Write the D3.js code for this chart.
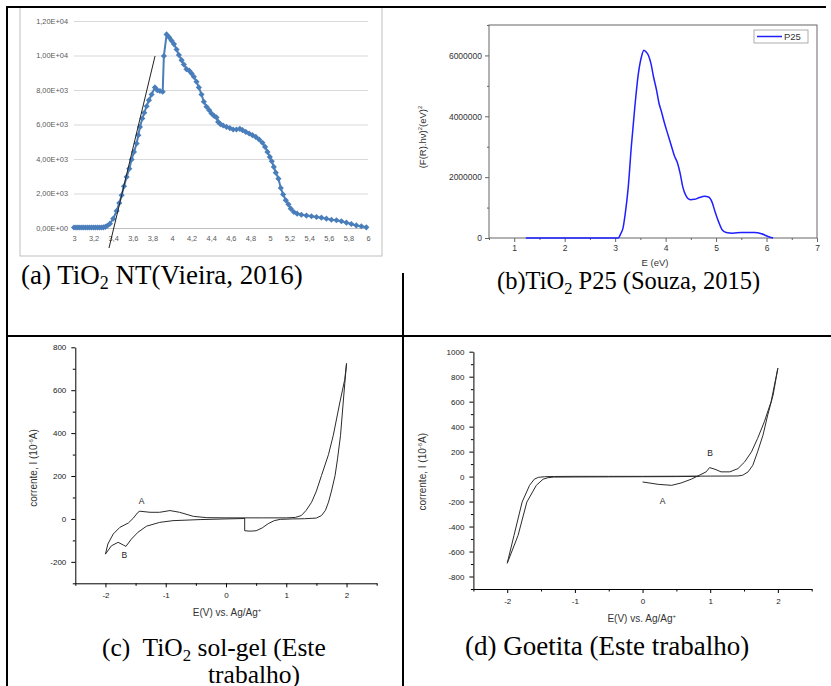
<!DOCTYPE html>
<html>
<head>
<meta charset="utf-8">
<script src="https://cdn.jsdelivr.net/npm/d3@7"></script>
<style>
  body { margin: 0; background: #fff; }
  svg { display: block; }
</style>
</head>
<body>
<div id="chart"></div>
<script>
// (a) TiO2 NT (Vieira, 2016) - excel style
const aE = [3.00,3.02,3.04,3.06,3.08,3.10,3.12,3.14,3.16,3.18,3.20,3.22,3.24,3.26,3.28,3.30,3.32,3.34,3.367,3.40,3.435,3.462,3.486,3.51,3.537,3.564,3.588,3.612,3.639,3.656,3.673,3.697,3.717,3.741,3.765,3.792,3.826,3.85,3.877,3.905,3.917,3.945,3.972,3.996,4.02,4.047,4.07,4.098,4.121,4.148,4.176,4.2,4.223,4.25,4.274,4.301,4.325,4.352,4.38,4.403,4.43,4.454,4.471,4.495,4.522,4.556,4.59,4.624,4.658,4.692,4.72,4.753,4.787,4.821,4.855,4.889,4.923,4.95,4.974,4.998,5.018,5.039,5.059,5.086,5.11,5.134,5.161,5.188,5.212,5.243,5.277,5.32,5.372,5.423,5.474,5.525,5.576,5.627,5.678,5.729,5.78,5.83,5.881,5.932,5.983];
const aF = [30,30,30,30,30,30,30,30,30,30,30,30,30,30,30,40,70,130,250,540,990,1450,1900,2420,2960,3440,3970,4410,4900,5380,5860,6350,6680,7060,7410,7740,8150,7990,7940,7900,9970,11220,11050,10860,10660,10350,10030,9730,9480,9210,9120,8960,8770,8480,8150,7740,7320,7030,6830,6640,6500,6410,6150,6020,5940,5860,5790,5710,5710,5750,5670,5570,5480,5380,5280,5130,4940,4700,4410,4120,3870,3540,3210,2860,2320,1940,1610,1370,1120,930,830,770,720,680,640,600,540,480,450,390,310,230,150,100,40];
const aTanE = [3.357, 3.827];
const aTanF = [-1160, 9970];
const aXTicks = [3,3.2,3.4,3.6,3.8,4,4.2,4.4,4.6,4.8,5,5.2,5.4,5.6,5.8,6];
const aYTicks = [0,2000,4000,6000,8000,10000,12000];
const aYLabels = ["0,00E+00","2,00E+03","4,00E+03","6,00E+03","8,00E+03","1,00E+04","1,20E+04"];

// (b) TiO2 P25 (Souza, 2015)
const bE = [1.23,3.06,3.11,3.16,3.20,3.26,3.32,3.39,3.46,3.52,3.57,3.61,3.66,3.71,3.76,3.82,3.87,3.91,3.97,4.04,4.11,4.17,4.24,4.29,4.34,4.40,4.49,4.57,4.67,4.77,4.85,4.92,4.98,5.05,5.12,5.20,5.33,5.50,5.76,5.90,6.03,6.13];
const bF = [0,0,0.14e6,0.36e6,0.8e6,1.68e6,3.0e6,4.31e6,5.4e6,5.95e6,6.17e6,6.12e6,6.0e6,5.73e6,5.3e6,4.86e6,4.42e6,4.2e6,3.82e6,3.43e6,3.05e6,2.72e6,2.44e6,2.11e6,1.68e6,1.4e6,1.26e6,1.27e6,1.33e6,1.37e6,1.35e6,1.18e6,0.86e6,0.53e6,0.27e6,0.18e6,0.16e6,0.18e6,0.18e6,0.14e6,0.05e6,0];
const bXTicks = [1,2,3,4,5,6,7];
const bXMinor = [0.5,1.5,2.5,3.5,4.5,5.5,6.5];
const bYTicks = [0,2000000,4000000,6000000];
const bYMinor = [1000000,3000000,5000000,7000000];

// (c) TiO2 sol-gel voltammogram
const cE = [0.31,0.31,0.4,0.5,0.6,0.7,0.8,0.9,1.1,1.3,1.5,1.585,1.65,1.70,1.75,1.81,1.85,1.9,1.945,1.97,2.0,1.97,1.89,1.78,1.7,1.585,1.5,1.42,1.33,1.25,1.15,1.0,0.6,0.3,0,-0.32,-0.54,-0.77,-0.93,-1.1,-1.26,-1.43,-1.46,-1.54,-1.62,-1.76,-1.87,-1.96,-2.0,-1.9,-1.79,-1.70,-1.66,-1.57,-1.46,-1.32,-1.1,-0.88,-0.43,0,0.31];
const cI = [5,-55,-57,-55,-42,-22,-8,-2,0,1,4,16,40,78,130,203,280,390,545,630,725,650,545,390,300,203,130,78,40,16,7,5,5,5,5,6,12,31,39,31,31,36,31,3,-19,-39,-70,-117,-164,-125,-109,-122,-128,-94,-62,-34,-16,-8,-3,0,2];
const cXTicks = [-2,-1,0,1,2];
const cXMinor = [-2.5,-1.5,-0.5,0.5,1.5,2.5];
const cYTicks = [-200,0,200,400,600,800];
const cYMinor = [-300,-100,100,300,500,700];

// (d) Goetita voltammogram
const dE = [0.0,0.23,0.43,0.57,0.72,0.84,0.94,0.99,1.07,1.16,1.29,1.41,1.51,1.61,1.70,1.80,1.90,2.0,1.93,1.85,1.78,1.70,1.63,1.56,1.48,1.41,1.0,0.5,0,-0.5,-1.0,-1.3,-1.45,-1.54,-1.60,-1.67,-1.78,-1.90,-2.0,-1.84,-1.71,-1.57,-1.47,-1.40,-1.32,-1.0,-0.5,0,0.5,0.84];
const dI = [-43,-62,-70,-51,-21,11,38,72,59,38,38,64,118,198,305,439,600,868,654,493,332,198,91,38,11,5,4,3,2,2,2,1,-1,-6,-21,-70,-204,-471,-694,-471,-204,-70,-21,-9,-4,-3,-2,-1,0,2];
const dXTicks = [-2,-1,0,1,2];
const dXMinor = [-2.5,-1.5,-0.5,0.5,1.5,2.5];
const dYTicks = [-800,-600,-400,-200,0,200,400,600,800,1000];
const dYMinor = [-900,-700,-500,-300,-100,100,300,500,700,900];

const W = 831, H = 686;
const svg = d3.select("#chart").append("svg")
  .attr("width", W).attr("height", H)
  .attr("viewBox", [0, 0, W, H]);

svg.append("rect").attr("width", W).attr("height", H).attr("fill", "#fff");

const serif = "'Liberation Serif', 'Times New Roman', serif";
const sans = "'Liberation Sans', Arial, sans-serif";

// ---------- panel (a) ----------
const drawA = () => {
  const g = svg.append("g");
  g.append("rect")
    .attr("x", 20).attr("y", 7).attr("width", 362).attr("height", 249)
    .attr("fill", "#fff").attr("stroke", "#bfbfbf").attr("stroke-width", 1);

  const x = d3.scaleLinear().domain([3, 6]).range([74, 368]);
  const y = d3.scaleLinear().domain([0, 12000]).range([228, 21]);

  g.append("g").selectAll("line").data(aYTicks).join("line")
    .attr("x1", x(3)).attr("x2", x(6))
    .attr("y1", d => y(d) + 0.5).attr("y2", d => y(d) + 0.5)
    .attr("stroke", d => d === 0 ? "#bfbfbf" : "#d9d9d9").attr("stroke-width", 1);

  const yAxis = g.append("g")
    .attr("transform", `translate(${x(3) - 6},0)`)
    .call(d3.axisLeft(y).tickValues(aYTicks).tickSize(0).tickPadding(0)
      .tickFormat((d, i) => aYLabels[i]));
  yAxis.select(".domain").remove();
  yAxis.selectAll("text").attr("font-family", sans).attr("font-size", 7.4).attr("fill", "#595959");

  const xAxis = g.append("g")
    .attr("transform", `translate(0,${y(0) + 8})`)
    .call(d3.axisBottom(x).tickValues(aXTicks).tickSize(0).tickPadding(0)
      .tickFormat(d => String(d).replace(".", ",")));
  xAxis.select(".domain").remove();
  xAxis.selectAll("text").attr("font-family", sans).attr("font-size", 7.4).attr("fill", "#595959");

  const pts = aE.map((e, i) => [e, aF[i]]);
  g.append("path").datum(pts)
    .attr("fill", "none").attr("stroke", "#4a7ebb").attr("stroke-width", 2)
    .attr("d", d3.line().x(d => x(d[0])).y(d => y(d[1])));

  g.append("g").selectAll("path").data(pts).join("path")
    .attr("transform", d => `translate(${x(d[0])},${y(d[1])}) rotate(45)`)
    .attr("d", d3.symbol(d3.symbolSquare, 19))
    .attr("fill", "#4a7ebb");

  g.append("line")
    .attr("x1", x(aTanE[0])).attr("y1", y(aTanF[0]))
    .attr("x2", x(aTanE[1])).attr("y2", y(aTanF[1]))
    .attr("stroke", "#222").attr("stroke-width", 1);

  const cap = g.append("text").attr("x", 21).attr("y", 284)
    .attr("font-family", serif).attr("font-size", 27).attr("fill", "#000");
  cap.append("tspan").text("(a) TiO");
  cap.append("tspan").attr("font-size", 18).attr("dy", 5).text("2");
  cap.append("tspan").attr("dy", -5).text(" NT(Vieira, 2016)");
};

// ---------- panel (b) ----------
const drawB = () => {
  const g = svg.append("g");
  const x = d3.scaleLinear().domain([0.5, 7]).range([489, 817]);
  const y = d3.scaleLinear().domain([0, 7000000]).range([238, 25]);

  g.append("rect")
    .attr("x", 489).attr("y", 25).attr("width", 328).attr("height", 213)
    .attr("fill", "none").attr("stroke", "#666").attr("stroke-width", 1);

  const yAx = g.append("g").attr("transform", "translate(489,0)")
    .call(d3.axisLeft(y).tickValues(bYTicks).tickSize(4).tickPadding(3).tickFormat(d3.format("d")));
  yAx.select(".domain").remove();
  yAx.selectAll("line").attr("stroke", "#666");
  yAx.selectAll("text").attr("font-family", sans).attr("font-size", 8.5).attr("fill", "#333");
  const yMin = g.append("g").attr("transform", "translate(489,0)")
    .call(d3.axisLeft(y).tickValues(bYMinor).tickSize(2).tickFormat(""));
  yMin.select(".domain").remove();
  yMin.selectAll("line").attr("stroke", "#666");

  const xAx = g.append("g").attr("transform", "translate(0,238)")
    .call(d3.axisBottom(x).tickValues(bXTicks).tickSize(4).tickPadding(3).tickFormat(d3.format("d")));
  xAx.select(".domain").remove();
  xAx.selectAll("line").attr("stroke", "#666");
  xAx.selectAll("text").attr("font-family", sans).attr("font-size", 8.5).attr("fill", "#333");
  const xMin = g.append("g").attr("transform", "translate(0,238)")
    .call(d3.axisBottom(x).tickValues(bXMinor).tickSize(2).tickFormat(""));
  xMin.select(".domain").remove();
  xMin.selectAll("line").attr("stroke", "#666");

  g.append("path").datum(bE.map((e, i) => [e, bF[i]]))
    .attr("fill", "none").attr("stroke", "#1f1fff").attr("stroke-width", 1.5)
    .attr("stroke-linejoin", "round")
    .attr("d", d3.line().curve(d3.curveMonotoneX).x(d => x(d[0])).y(d => y(d[1])));

  // legend
  g.append("rect").attr("x", 754).attr("y", 30).attr("width", 54).attr("height", 13)
    .attr("fill", "#fff").attr("stroke", "#999").attr("stroke-width", 0.8);
  g.append("line").attr("x1", 757).attr("x2", 782).attr("y1", 36.5).attr("y2", 36.5)
    .attr("stroke", "#1f1fff").attr("stroke-width", 1.5);
  g.append("text").attr("x", 784).attr("y", 40).text("P25")
    .attr("font-family", sans).attr("font-size", 9.5).attr("fill", "#333");

  g.append("text").attr("x", 655).attr("y", 266).attr("text-anchor", "middle")
    .attr("font-family", sans).attr("font-size", 9.5).attr("fill", "#333").text("E (eV)");

  const yt = g.append("text").attr("transform", "translate(426,137) rotate(-90)")
    .attr("text-anchor", "middle").attr("font-family", sans).attr("font-size", 9.5).attr("fill", "#333");
  yt.append("tspan").text("(F(R).hν)");
  yt.append("tspan").attr("font-size", 6).attr("dy", -4).text("2");
  yt.append("tspan").attr("dy", 4).text("(eV)");
  yt.append("tspan").attr("font-size", 6).attr("dy", -4).text("2");

  const cap = g.append("text").attr("x", 497).attr("y", 289)
    .attr("font-family", serif).attr("font-size", 24.5).attr("fill", "#000");
  cap.append("tspan").text("(b)TiO");
  cap.append("tspan").attr("font-size", 16.5).attr("dy", 5).text("2");
  cap.append("tspan").attr("dy", -5).text(" P25 (Souza, 2015)");
};

// ---------- CV panels (c) and (d) ----------
const drawCV = (opt) => {
  const g = svg.append("g");
  const x = d3.scaleLinear().domain([-2.5, 2.5]).range(opt.xr);
  const y = d3.scaleLinear().domain(opt.yd).range(opt.yr);

  const yAx = g.append("g").attr("transform", `translate(${opt.xr[0]},0)`)
    .call(d3.axisLeft(y).tickValues(opt.yTicks).tickSize(4).tickSizeOuter(0).tickPadding(5)
      .tickFormat(d => String(d)));
  yAx.selectAll("text").attr("font-family", sans).attr("font-size", 8).attr("fill", "#222");
  g.append("g").attr("transform", `translate(${opt.xr[0]},0)`)
    .call(d3.axisLeft(y).tickValues(opt.yMinor).tickSize(2.5).tickSizeOuter(0).tickFormat(""))
    .select(".domain").remove();

  const xAx = g.append("g").attr("transform", `translate(0,${opt.yr[0]})`)
    .call(d3.axisBottom(x).tickValues(opt.xTicks).tickSize(4).tickSizeOuter(0).tickPadding(5)
      .tickFormat(d => String(d)));
  xAx.selectAll("text").attr("font-family", sans).attr("font-size", 8).attr("fill", "#222");
  g.append("g").attr("transform", `translate(0,${opt.yr[0]})`)
    .call(d3.axisBottom(x).tickValues(opt.xMinor).tickSize(2.5).tickSizeOuter(0).tickFormat(""))
    .select(".domain").remove();

  g.append("path").datum(opt.E.map((e, i) => [e, opt.I[i]]))
    .attr("fill", "none").attr("stroke", "#2b2b2b").attr("stroke-width", 1)
    .attr("stroke-linejoin", "round")
    .attr("d", d3.line().x(d => x(d[0])).y(d => y(d[1])));

  opt.marks.forEach(m => {
    g.append("text").attr("x", m.x).attr("y", m.y).attr("text-anchor", "middle")
      .attr("font-family", sans).attr("font-size", 8.5).attr("fill", "#222").text(m.t);
  });

  const xt = g.append("text").attr("x", opt.xTitle[0]).attr("y", opt.xTitle[1])
    .attr("text-anchor", "middle").attr("font-family", sans).attr("font-size", 10).attr("fill", "#333");
  xt.append("tspan").text("E(V) vs. Ag/Ag");
  xt.append("tspan").attr("font-size", 6).attr("dy", -4).text("+");

  const yt = g.append("text")
    .attr("transform", `translate(${opt.yTitle[0]},${opt.yTitle[1]}) rotate(-90)`)
    .attr("text-anchor", "middle").attr("font-family", sans).attr("font-size", 10).attr("fill", "#333");
  yt.append("tspan").text("corrente, I (10");
  yt.append("tspan").attr("font-size", 6).attr("dy", -4).text("-6");
  yt.append("tspan").attr("dy", 4).text("A)");

  opt.caption.forEach(c => {
    const t = g.append("text").attr("x", c.x).attr("y", c.y)
      .attr("font-family", serif).attr("font-size", opt.capSize).attr("fill", "#000")
      .attr("xml:space", "preserve");
    t.append("tspan").text(c.pre);
    if (c.sub) {
      t.append("tspan").attr("font-size", opt.capSize * 0.66).attr("dy", 5).text(c.sub);
      t.append("tspan").attr("dy", -5).text(c.post);
    }
  });
};

// table borders
const drawTable = () => {
  const g = svg.append("g").attr("stroke", "#000").attr("stroke-width", 2);
  g.append("line").attr("x1", 6).attr("x2", 826).attr("y1", 7).attr("y2", 7);
  g.append("line").attr("x1", 7).attr("x2", 7).attr("y1", 6).attr("y2", 686);
  g.append("line").attr("x1", 7).attr("x2", 831).attr("y1", 336).attr("y2", 336);
  g.append("line").attr("x1", 403).attr("x2", 403).attr("y1", 273).attr("y2", 686);
};

drawA();
drawB();
drawCV({
  xr: [75.3, 376.7], yd: [-300, 800], yr: [583.3, 347.3],
  xTicks: cXTicks, xMinor: cXMinor, yTicks: cYTicks, yMinor: cYMinor,
  E: cE, I: cI,
  marks: [{ x: 141.5, y: 504, t: "A" }, { x: 124.3, y: 558, t: "B" }],
  xTitle: [227, 616], yTitle: [37, 468],
  capSize: 25.5,
  caption: [
    { x: 102, y: 656, pre: "(c)  TiO", sub: "2", post: " sol-gel (Este" },
    { x: 208, y: 683, pre: "trabalho)" }
  ]
});
drawCV({
  xr: [473.4, 811.7], yd: [-900, 1000], yr: [589, 351.7],
  xTicks: dXTicks, xMinor: dXMinor, yTicks: dYTicks, yMinor: dYMinor,
  E: dE, I: dI,
  marks: [{ x: 662.6, y: 504, t: "A" }, { x: 710, y: 455.5, t: "B" }],
  xTitle: [641.7, 622], yTitle: [426, 471.7],
  capSize: 27,
  caption: [
    { x: 465, y: 655, pre: "(d) Goetita (Este trabalho)" }
  ]
});
drawTable();
</script>
</body>
</html>
